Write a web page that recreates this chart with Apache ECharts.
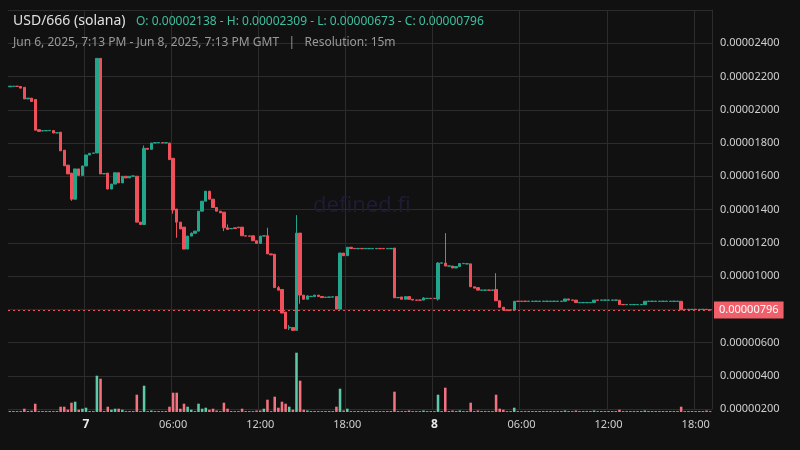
<!DOCTYPE html>
<html><head><meta charset="utf-8">
<script src="https://cdn.jsdelivr.net/npm/echarts@6/dist/echarts.min.js"></script>
<style>html,body{margin:0;padding:0;background:#111111;}#c{width:800px;height:450px;}</style>
</head><body><div id="c"></div>
<script>
// prices in units of 1e-8
const opens = [2138,2140,2142,2140,2135,2065,2070,2062,1880,1872,1873,1874,1875,1860,1865,1757,1667,1619,1462,1644,
1605,1662,1728,1738,1740,2309,1614,1619,1523,1553,1621,1560,1600,1590,1600,1600,1324,1310,1768,1762,
1800,1801,1802,1800,1800,1708,1403,1324,1294,1162,1240,1257,1270,1390,1450,1510,1462,1412,1390,1384,
1290,1284,1290,1294,1294,1242,1241,1242,1212,1196,1240,1242,1133,1131,930,919,783,688,690,673,
1258,885,860,876,877,885,877,871,872,873,877,801,1138,1122,1173,1166,1164,1166,1164,1164,
1164,1164,1166,1166,1164,1164,1168,869,874,860,876,860,856,856,855,864,866,866,861,1077,
1078,1059,1060,1048,1057,1074,1072,1073,935,930,914,914,916,914,919,851,812,796,796,795,
849,849,849,847,847,847,847,847,847,847,847,847,847,848,862,856,855,839,839,839,
839,840,856,854,854,854,854,854,855,829,827,827,827,827,827,828,847,847,847,847,
847,847,847,847,847,848,800,798,798,800,798,798,800,797];
const closes = [2142,2142,2140,2130,2065,2070,2050,1877,1870,1874,1875,1876,1860,1862,1753,1663,1614,1462,1644,1605,
1662,1728,1738,1740,2309,1614,1616,1523,1553,1621,1560,1600,1590,1600,1602,1324,1310,1768,1762,1800,
1802,1803,1800,1802,1700,1397,1324,1283,1162,1240,1257,1270,1390,1450,1510,1462,1412,1390,1380,1290,
1280,1286,1285,1290,1242,1240,1239,1212,1196,1240,1242,1133,1127,930,915,777,683,692,673,1258,
885,860,880,878,885,877,870,873,874,875,801,1138,1122,1173,1165,1164,1166,1164,1166,1166,
1166,1166,1164,1164,1166,1166,869,871,860,876,860,855,854,854,868,866,864,864,1078,1079,
1060,1061,1048,1057,1075,1076,1074,935,927,915,916,916,914,916,851,812,795,794,794,848,
847,847,847,849,849,849,849,849,849,849,849,849,849,862,855,854,840,841,841,841,
841,855,854,856,856,856,856,856,828,827,829,829,829,829,829,848,849,849,849,849,
849,849,849,849,849,797,798,800,800,798,800,800,798,796];
// wick overrides [index, value]
const highWicks = [[37,1785],[50,1262],[60,1310],[71,1290],[74,940],[77,705],[79,1366],[82,885],[114,872],[118,1083],[120,1258],[134,1017]];
const lowWicks = [[17,1452],[45,1375],[46,1230],[59,1270],[77,675],[80,833],[118,852]];
// volume bar heights (relative), sparse [index, value, up(1)/down(0)]
const volumes = [[4,3.3,0],[6,1.3,0],[7,8.3,0],[14,5.3,0],[15,5.3,0],[16,2.3,0],[17,9.3,0],[18,10.3,1],[19,2.3,0],[20,3.3,1],
[21,4.3,1],[24,36.3,1],[25,33.3,0],[27,5.3,0],[28,2.3,1],[29,3.3,1],[30,3.3,0],[31,2.3,1],[35,17.3,0],[37,26.3,1],
[39,1.5,1],[44,5.3,0],[45,19.3,0],[46,19.3,0],[47,3.3,0],[48,8.3,0],[49,5.3,1],[50,2.3,1],[52,8.3,1],[53,3.3,1],
[54,4.3,1],[55,2.3,0],[56,3.3,0],[57,1.5,0],[59,9.3,0],[60,3.3,0],[64,3.3,0],[68,1.5,0],[69,1.5,0],[70,3.3,1],
[71,12.3,0],[73,15.3,0],[74,4.3,0],[75,10.3,0],[76,8.3,0],[77,5.3,1],[78,2.3,0],[79,59.3,1],[80,31.3,0],[81,2.3,0],
[82,1.5,1],[90,5.3,0],[91,23.3,1],[92,1.5,0],[93,3.3,1],[106,20.3,0],[110,1.5,0],[114,1.5,1],[118,17.3,1],[120,24.3,0],
[122,1.5,0],[124,1.5,1],[127,9.3,0],[129,1.5,0],[134,17.3,0],[135,3.3,0],[136,2.3,0],[139,4.3,1],[153,1.5,1],[156,1.5,0],
[161,1.5,1],[168,2.3,0],[175,1.5,1],[185,5.3,0],[192,1.5,0]];
const xTickLabels = ['{b|7}','06:00','12:00','18:00','{b|8}','06:00','12:00','18:00'];
const yHidden = [800,2600];

const N = opens.length;
const cats = []; const startMin = 18*60+45;
for (let i=0;i<N;i++){ cats.push(startMin + i*15); }
const hi = {}; highWicks.forEach(w=>hi[w[0]]=w[1]);
const lo = {}; lowWicks.forEach(w=>lo[w[0]]=w[1]);
const kdata = opens.map((o,i)=>{const c=closes[i];return [o,c,lo[i]!==undefined?lo[i]:Math.min(o,c),hi[i]!==undefined?hi[i]:Math.max(o,c)];});
const volMap = {}; volumes.forEach(v=>volMap[v[0]]=v);
const vdata = opens.map((o,i)=>{const v=volMap[i];const up=v?v[2]===1:closes[i]>=o;return {value:v?v[1]:0.9,itemStyle:{color:up?'#5cc9a7':'#f2737f'}};});
const isTick = (i)=>cats[i]%360===0;
const lbl = (val)=>{const m=+val; if(m%360!==0) return ''; const key=Math.round((m-1440)/360); return xTickLabels[key]||'';};

const chart = echarts.init(document.getElementById('c'));
chart.setOption({
  backgroundColor:'#111111', animation:false,
  title:[
    {text:'USD/666 (solana)',left:8,top:9,textStyle:{color:'#e0e0e0',fontSize:14,fontWeight:'normal',fontFamily:'Noto Sans'}},
    {text:'O: 0.00002138 - H: 0.00002309 - L: 0.00000673 - C: 0.00000796',left:131,top:11,textStyle:{color:'#3fbf9f',fontSize:12,fontWeight:'normal',fontFamily:'Noto Sans'}},
    {text:'Jun 6, 2025, 7:13 PM - Jun 8, 2025, 7:13 PM GMT   |   Resolution: 15m',left:8,top:32,textStyle:{color:'#9a9a9a',fontSize:12,fontWeight:'normal',fontFamily:'Noto Sans'}},
    {text:'defined.fi',left:308,top:190,textStyle:{color:'#1d1c33',fontSize:22,fontWeight:'normal',fontFamily:'Noto Sans'}}
  ],
  grid:[{left:8,right:88,top:10,bottom:41},{left:8,right:88,top:300,bottom:38}],
  xAxis:[
    {type:'category',data:cats,gridIndex:0,boundaryGap:true,
     axisLine:{show:false},axisTick:{show:false},
     axisLabel:{interval:(i)=>isTick(i),formatter:lbl,color:'#cfcfcf',fontSize:11,margin:10,fontFamily:'Noto Sans',
       rich:{b:{fontWeight:'bold',color:'#e8e8e8',fontSize:12}}},
     splitLine:{show:true,interval:(i)=>isTick(i),lineStyle:{color:'#2c2c2c'}}},
    {type:'category',data:cats,gridIndex:1,boundaryGap:true,show:false}
  ],
  yAxis:[
    {type:'value',position:'right',gridIndex:0,min:200,max:2600,interval:200,
     axisLine:{show:true,lineStyle:{color:'#2c2c2c'}},axisTick:{show:false},
     axisLabel:{color:'#cfcfcf',fontSize:11,margin:8,fontFamily:'Noto Sans',
       formatter:(v)=>yHidden.includes(v)?'':(v/1e8).toFixed(8)},
     splitLine:{lineStyle:{color:'#2c2c2c'}}},
    {type:'value',gridIndex:1,min:0,max:112,show:false}
  ],
  series:[
    {type:'candlestick',data:kdata,xAxisIndex:0,yAxisIndex:0,barWidth:'80%',
     itemStyle:{color:'#22a68b',color0:'#f0505a',borderColor:'#22a68b',borderColor0:'#f0505a',borderWidth:1},
     markLine:{symbol:'none',silent:true,data:[{yAxis:closes[N-1]}],
       lineStyle:{color:'#f0505a',type:[2,3],width:1},
       label:{position:'end',formatter:(p)=>(p.value/1e8).toFixed(8),color:'#fff',backgroundColor:'#f0606a',padding:[3,5],fontSize:11,fontFamily:'Noto Sans',distance:2}}},
    {type:'bar',data:vdata,xAxisIndex:1,yAxisIndex:1,barWidth:'70%'}
  ]
});
</script></body></html>
